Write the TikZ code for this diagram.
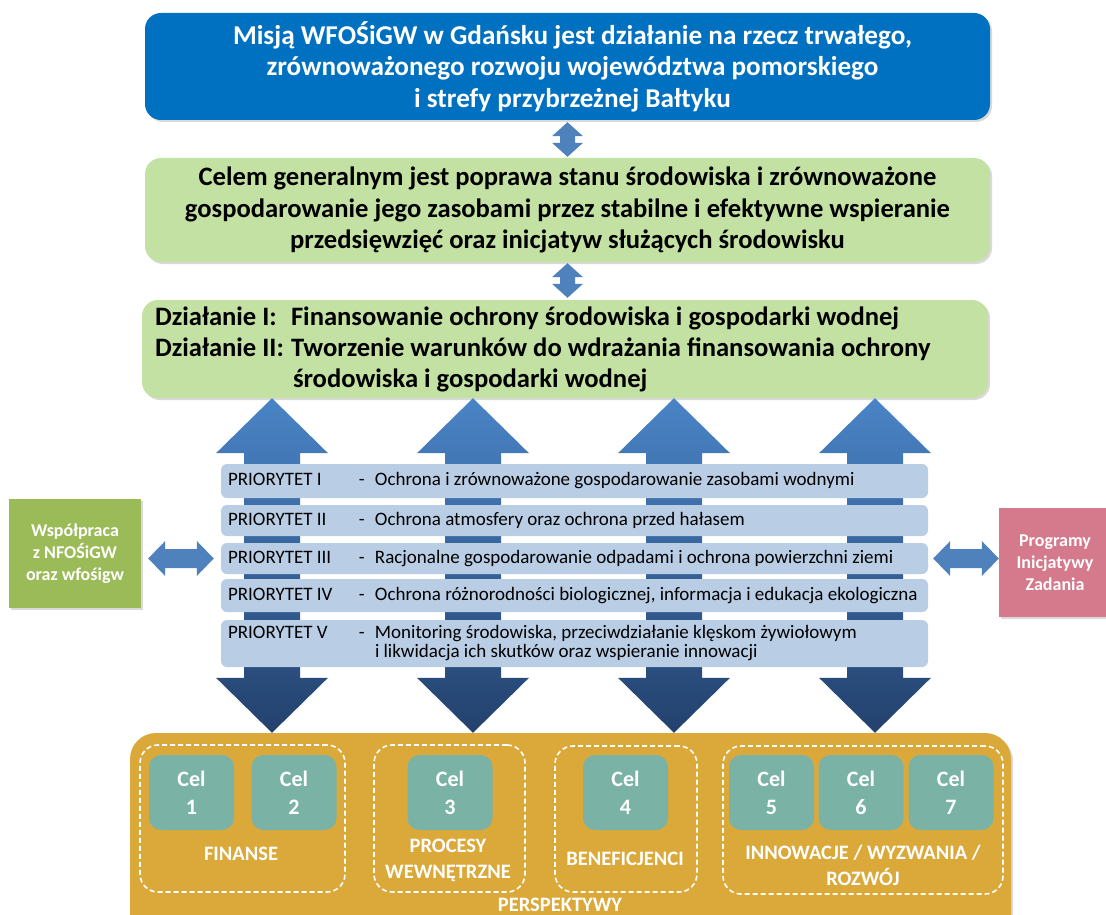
\documentclass[tikz,border=0pt]{standalone}
\usepackage{fontspec}
\setmainfont{Carlito}
\usetikzlibrary{calc,positioning,shadows}

\definecolor{misjablue}{HTML}{0070C0}
\definecolor{celgreen}{HTML}{C4E1A4}
\definecolor{barblue}{HTML}{B9CDE5}
\definecolor{arrblue}{HTML}{4F81BD}
\definecolor{arrtop}{HTML}{4A84C6}
\definecolor{arrbot}{HTML}{23416D}
\definecolor{coopgreen}{HTML}{9BBB59}
\definecolor{progpink}{HTML}{D5798C}
\definecolor{perspgold}{HTML}{DAA93A}
\definecolor{celteal}{HTML}{7AB3A6}

% fat double arrows: [opts]{from}{to}{shaft half}{head half}{head length}
\newcommand{\vfat}[6][]{%
  \path[#1] let \p1=(#2), \p2=(#3) in
    (\x1,\y1) -- (\x1+#5,\y1-#6) -- (\x1+#4,\y1-#6) -- (\x1+#4,\y2+#6)
    -- (\x1+#5,\y2+#6) -- (\x1,\y2) -- (\x1-#5,\y2+#6) -- (\x1-#4,\y2+#6)
    -- (\x1-#4,\y1-#6) -- (\x1-#5,\y1-#6) -- cycle;}
\newcommand{\hfat}[6][]{%
  \path[#1] let \p1=(#2), \p2=(#3) in
    (\x1,\y1) -- (\x1+#6,\y1+#5) -- (\x1+#6,\y1+#4) -- (\x2-#6,\y1+#4)
    -- (\x2-#6,\y1+#5) -- (\x2,\y1) -- (\x2-#6,\y1-#5) -- (\x2-#6,\y1-#4)
    -- (\x1+#6,\y1-#4) -- (\x1+#6,\y1-#5) -- cycle;}
\newcommand{\prio}[2]{\makebox[131pt][l]{#1}\makebox[16pt][l]{-}#2}

\begin{document}
\begin{tikzpicture}[x=1pt,y=-1pt,
    softshadow/.style={drop shadow={opacity=.3, shadow xshift=2pt, shadow yshift=-2pt}},
    topbox/.style={rectangle, rounded corners=16pt, align=center, softshadow,
      font=\bfseries\fontsize{26.6}{31.5}\selectfont},
    prbar/.style={rectangle, rounded corners=6pt, fill=barblue, minimum width=707pt,
      text width=693pt, inner xsep=7pt, inner ysep=0pt, align=flush left,
      font=\fontsize{19}{19}\selectfont},
    sidebox/.style={rectangle, text=white, align=center, softshadow,
      font=\bfseries\fontsize{18}{22}\selectfont},
    celbox/.style={rectangle, rounded corners=12pt, fill=celteal, minimum width=85pt,
      minimum height=75pt, text=white, align=center,
      font=\bfseries\fontsize{22}{28}\selectfont},
    group/.style={rectangle, draw=white, line width=1.6pt, dash pattern=on 5pt off 3pt,
      rounded corners=18pt},
    grouplabel/.style={text=white, align=center, font=\bfseries\fontsize{20.5}{26}\selectfont}
  ]
  \useasboundingbox (0,0) rectangle (1106,915);

  % Boxes (top)
  \node[topbox, fill=misjablue, text=white, minimum width=845pt, minimum height=107pt,
    font=\bfseries\fontsize{27.2}{31.5}\selectfont]
    (misja) at (567.5,66.5)
    {\hspace*{10pt}Misją WFOŚiGW w Gdańsku jest działanie na rzecz trwałego,\\
     \hspace*{10pt}zrównoważonego rozwoju województwa pomorskiego\\
     \hspace*{10pt}i strefy przybrzeżnej Bałtyku};

  \node[topbox, fill=celgreen, minimum width=845pt, minimum height=104pt]
    (celgen) at (567.5,210)
    {Celem generalnym jest poprawa stanu środowiska i zrównoważone\\
     gospodarowanie jego zasobami przez stabilne i efektywne wspieranie\\
     przedsięwzięć oraz inicjatyw służących środowisku};

  \node[topbox, fill=celgreen, minimum width=846pt, minimum height=98pt,
    text width=820pt, inner xsep=13pt, align=flush left,
    font=\bfseries\fontsize{26.6}{31}\selectfont]
    (dzialania) at (565,349)
    {\makebox[136pt][l]{Działanie I:}Finansowanie ochrony środowiska i gospodarki wodnej\\
     \makebox[136pt][l]{Działanie II:}Tworzenie warunków do wdrażania finansowania ochrony\\
     \hspace*{138pt}środowiska i gospodarki wodnej};

  % Box (bottom)
  \node[rectangle, rounded corners=26pt, fill=perspgold, softshadow,
    minimum width=881pt, minimum height=220pt] (persp) at (570.5,843) {};
  \node[grouplabel] (perspl) at (560,905) {PERSPEKTYWY};

  % Arcs (top)
  \vfat[fill=arrblue]{$(misja.south)+(0,2)$}{$(celgen.north)+(0,-1)$}{7.5pt}{15.5pt}{14pt}
  \vfat[fill=arrblue]{$(celgen.south)+(0,1)$}{$(dzialania.north)+(0,-2)$}{7.5pt}{15.5pt}{14pt}

  % Arcs (big, behind the bars)
  \foreach \cx in {272,473,674,875}
    \vfat[top color=arrtop, bottom color=arrbot]
      {\cx,0 |- dzialania.south}{\cx,0 |- persp.north}{28pt}{56pt}{55pt};

  % Priorities
  \node[prbar, minimum height=34pt] (pr1) at (574.5,481)
    {\prio{PRIORYTET I}{Ochrona i zrównoważone gospodarowanie zasobami wodnymi}};
  \node[prbar, minimum height=31pt] (pr2) at (574.5,520.5)
    {\prio{PRIORYTET II}{Ochrona atmosfery oraz ochrona przed hałasem}};
  \node[prbar, minimum height=31pt] (pr3) at (574.5,558.5)
    {\prio{PRIORYTET III}{Racjonalne gospodarowanie odpadami i ochrona powierzchni ziemi}};
  \node[prbar, minimum height=33pt] (pr4) at (574.5,595.5)
    {\prio{PRIORYTET IV}{Ochrona różnorodności biologicznej, informacja i edukacja ekologiczna}};
  \node[prbar, minimum height=47pt] (pr5) at (574.5,643.5)
    {\prio{PRIORYTET V}{Monitoring środowiska, przeciwdziałanie klęskom żywiołowym}\\
     \hspace*{147pt}i likwidacja ich skutków oraz wspieranie innowacji};

  % Boxes (sides)
  \node[sidebox, fill=coopgreen, minimum width=132pt, minimum height=109pt]
    (wspolpraca) at (75,553.5) {Współpraca\\z NFOŚiGW\\oraz wfośigw};
  \node[sidebox, fill=progpink, minimum width=112pt, minimum height=109pt]
    (programy) at (1055,562.5) {Programy\\Inicjatywy\\Zadania};

  % Arcs (sides)
  \hfat[fill=arrblue]{$(wspolpraca.east |- pr3.west)+(7,0)$}{$(pr3.west)+(-7,0)$}{9.5pt}{17.5pt}{17pt}
  \hfat[fill=arrblue]{$(pr3.east)+(5,0)$}{programy.west |- pr3.east}{9.5pt}{17.5pt}{17pt}

  % Goals
  \foreach \n/\cx in {1/191.5, 2/294, 3/450, 4/625.5, 5/771.5, 6/861, 7/951}
    \node[celbox] (cel\n) at (\cx,792.5) {Cel\\\n};

  % Perspectives (groups)
  \node[group, minimum width=205pt, minimum height=147pt] (gfin) at (242.5,818.5) {};
  \node[group, minimum width=151pt, minimum height=147pt] (gproc) at (449.5,818.5) {};
  \node[group, minimum width=142pt, minimum height=146pt] (gben) at (626,819) {};
  \node[group, minimum width=280pt, minimum height=148pt] (ginn) at (863,820) {};

  \node[grouplabel] (lfin) at (241,854) {FINANSE};
  \node[grouplabel] (lproc) at (448,860) {PROCESY\\WEWNĘTRZNE};
  \node[grouplabel] (lben) at (625,859) {BENEFICJENCI};
  \node[grouplabel] (linn) at (863,865) {INNOWACJE / WYZWANIA /\\ROZWÓJ};
\end{tikzpicture}
\end{document}
